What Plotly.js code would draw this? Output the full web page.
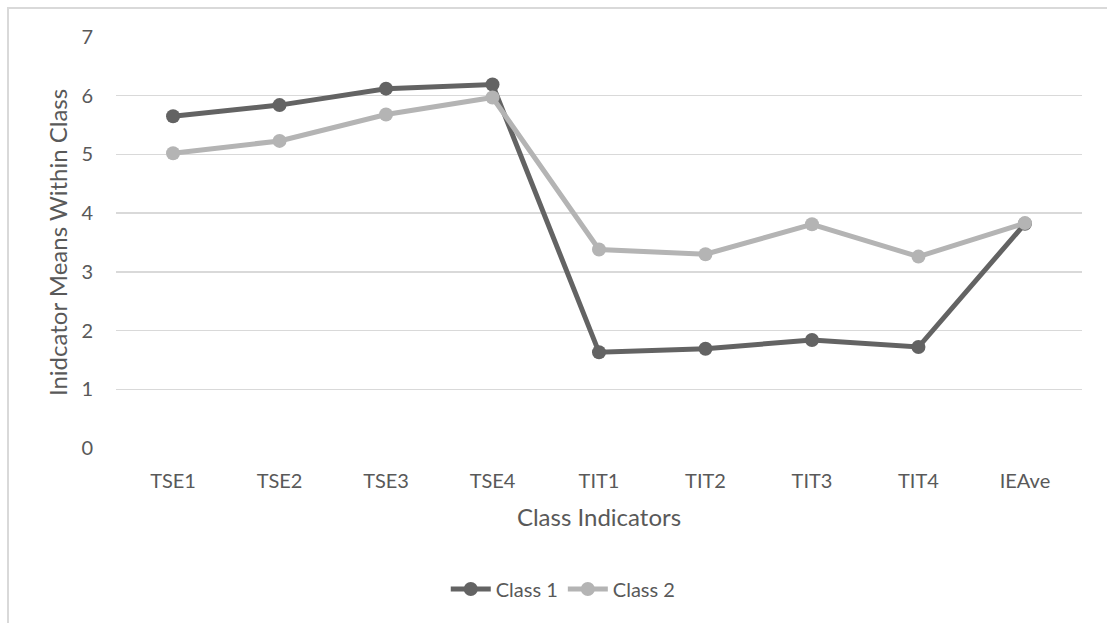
<!DOCTYPE html>
<html>
<head>
<meta charset="utf-8">
<script src="https://cdn.plot.ly/plotly-3.0.1.min.js"></script>
<style>
  html, body { margin: 0; padding: 0; background: #ffffff; }
  #wrap { position: relative; width: 1107px; height: 623px; }
  #chart { width: 1107px; height: 623px; }
  #frame { position: absolute; left: 7px; top: 7px; right: 0; bottom: 0;
           border-top: 2px solid #d9d9d9; border-left: 2px solid #d9d9d9; pointer-events: none; }
</style>
</head>
<body>
<div id="wrap">
  <div id="chart"></div>
  <div id="frame"></div>
</div>
<script>
const categories = ["TSE1", "TSE2", "TSE3", "TSE4", "TIT1", "TIT2", "TIT3", "TIT4", "IEAve"];
const class1 = [5.65, 5.84, 6.12, 6.19, 1.63, 1.69, 1.84, 1.72, 3.82];
const class2 = [5.02, 5.23, 5.68, 5.97, 3.38, 3.30, 3.81, 3.26, 3.83];
const seriesNames = ["Class 1", "Class 2"];
const yTicks = [0, 1, 2, 3, 4, 5, 6, 7];

const fontFam = "Lato, 'Open Sans', sans-serif";
const textColor = "#595959";

const traces = [
  { x: categories, y: class1, name: seriesNames[0], type: "scatter", mode: "lines+markers",
    line: { color: "#636363", width: 5 }, marker: { color: "#636363", size: 14 } },
  { x: categories, y: class2, name: seriesNames[1], type: "scatter", mode: "lines+markers",
    line: { color: "#b4b4b4", width: 5 }, marker: { color: "#b4b4b4", size: 14 } }
];

const layout = {
  width: 1107, height: 623,
  margin: { l: 116, r: 25, t: 37, b: 175 },
  paper_bgcolor: "#ffffff", plot_bgcolor: "#ffffff",
  font: { family: fontFam, color: textColor, size: 20 },
  showlegend: true,
  legend: { orientation: "h", x: 0.463, xanchor: "center", y: -0.343, yanchor: "middle",
            font: { size: 20, color: textColor }, itemwidth: 40, traceorder: "normal" },
  xaxis: {
    type: "category", showgrid: false, zeroline: false, showline: false, ticks: "",
    ticklabelstandoff: 19,
    tickfont: { size: 20, color: textColor },
    title: { text: "Class Indicators", font: { size: 24, color: textColor }, standoff: 18 }
  },
  yaxis: {
    range: [0, 7], tickvals: yTicks, ticktext: yTicks.map(String),
    showgrid: true, gridcolor: "#d9d9d9", gridwidth: 1.5, zeroline: false, showline: false,
    ticks: "", ticklabelstandoff: 22,
    tickfont: { size: 20, color: textColor },
    title: { text: "Inidcator Means Within Class", font: { size: 24, color: textColor }, standoff: 6 }
  }
};

Plotly.newPlot("chart", traces, layout, { displayModeBar: false, staticPlot: true });
</script>
</body>
</html>
